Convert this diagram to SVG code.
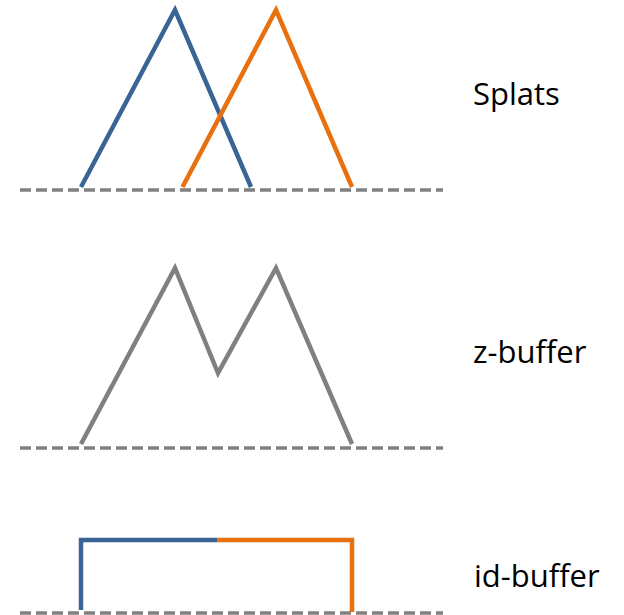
<svg xmlns="http://www.w3.org/2000/svg" width="624" height="615" viewBox="0 0 624 615">
<style>
.base{stroke:#808080;stroke-width:3.5;stroke-dasharray:11 5;fill:none}
.blue{stroke:#3A6494;stroke-width:4.5;fill:none;stroke-linejoin:miter}
.orange{stroke:#E8700E;stroke-width:4.5;fill:none;stroke-linejoin:miter}
.gray{stroke:#808080;stroke-width:4.5;fill:none;stroke-linejoin:miter}
.lbl{font-family:"Open Sans","Noto Sans",sans-serif;font-size:31px;fill:#000}
</style>
<rect width="624" height="615" fill="#fff"/>
<g id="connectors">
<line class="base" x1="20" y1="190" x2="443" y2="190"/>
<line class="base" x1="20" y1="448" x2="443" y2="448"/>
<line class="base" x1="20" y1="613" x2="443" y2="613"/>
</g>
<g id="splats">
<polyline class="blue" points="81,187 175,10 251,187"/>
<polyline class="orange" points="182.5,187 276,10 352,187"/>
<text class="lbl" x="473" y="105">Splats</text>
</g>
<g id="zbuffer">
<polyline class="gray" points="81,444 175,268 218,373 276,268 352,444"/>
<text class="lbl" x="473" y="363">z-buffer</text>
</g>
<g id="idbuffer">
<polyline class="blue" points="81,610 81,540 217,540"/>
<polyline class="orange" points="217,540 352,540 352,612"/>
<text class="lbl" x="474" y="587">id-buffer</text>
</g>
</svg>
